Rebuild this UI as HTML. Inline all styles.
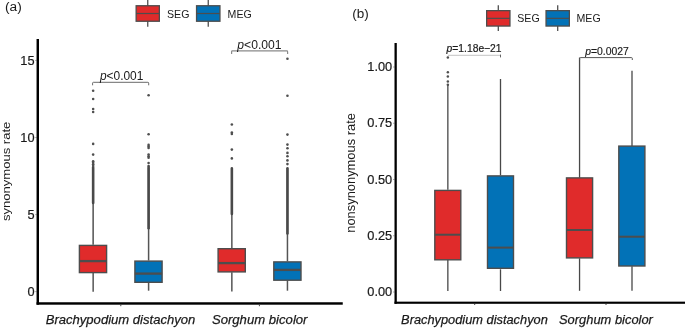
<!DOCTYPE html>
<html><head><meta charset="utf-8"><title>Figure</title>
<style>html,body{margin:0;padding:0;background:#fff;}body{width:685px;height:328px;overflow:hidden;font-family:"Liberation Sans",sans-serif;}svg{display:block;will-change:transform;}text{font-family:"Liberation Sans",sans-serif;fill:#1a1a1a;}</style></head>
<body>
<svg width="685" height="328" viewBox="0 0 685 328">
<rect width="685" height="328" fill="#fff"/>
<text x="5" y="10.5" font-size="13.7" text-anchor="start"  >(a)</text>
<line x1="147.75" x2="147.75" y1="0" y2="26.8" stroke="#505050" stroke-width="1.3"/>
<rect x="136.15" y="5.75" width="23.20" height="15.50" fill="#e02b2b" stroke="#4d4d4d" stroke-width="1.3"/>
<line x1="136.15" x2="159.35" y1="13.50" y2="13.50" stroke="#4d4d4d" stroke-width="1.2"/>
<text x="167" y="17.6" font-size="10.6" text-anchor="start"  >SEG</text>
<line x1="208.25" x2="208.25" y1="0" y2="26.8" stroke="#505050" stroke-width="1.3"/>
<rect x="196.55" y="5.75" width="23.40" height="15.50" fill="#0272b7" stroke="#4d4d4d" stroke-width="1.3"/>
<line x1="196.55" x2="219.95" y1="13.50" y2="13.50" stroke="#4d4d4d" stroke-width="1.2"/>
<text x="227.6" y="17.6" font-size="10.6" text-anchor="start"  >MEG</text>
<rect x="36.55" y="39" width="2.45" height="265.7" fill="#000"/>
<rect x="36.55" y="302.25" width="306.2" height="2.45" fill="#000"/>
<line x1="35.5" x2="36.7" y1="291.60" y2="291.60" stroke="#555" stroke-width="0.8"/>
<text x="34.6" y="296.30" font-size="12.8" text-anchor="end" stroke="#1a1a1a" stroke-width="0.2" >0</text>
<line x1="35.5" x2="36.7" y1="214.55" y2="214.55" stroke="#555" stroke-width="0.8"/>
<text x="34.6" y="219.25" font-size="12.8" text-anchor="end" stroke="#1a1a1a" stroke-width="0.2" >5</text>
<line x1="35.5" x2="36.7" y1="137.50" y2="137.50" stroke="#555" stroke-width="0.8"/>
<text x="34.6" y="142.20" font-size="12.8" text-anchor="end" stroke="#1a1a1a" stroke-width="0.2" >10</text>
<line x1="35.5" x2="36.7" y1="60.45" y2="60.45" stroke="#555" stroke-width="0.8"/>
<text x="34.6" y="65.15" font-size="12.8" text-anchor="end" stroke="#1a1a1a" stroke-width="0.2" >15</text>
<line x1="120.8" x2="120.8" y1="304.8" y2="306.2" stroke="#333" stroke-width="0.9"/>
<line x1="259.4" x2="259.4" y1="304.8" y2="306.2" stroke="#333" stroke-width="0.9"/>
<text transform="translate(10.2,221.0) rotate(-90)" font-size="11.8" text-anchor="start" textLength="99.3" lengthAdjust="spacingAndGlyphs">synonymous rate</text>
<text x="45.7" y="324.2" font-size="13.5" text-anchor="start" font-style="italic" stroke="#1a1a1a" stroke-width="0.25" textLength="149.6" lengthAdjust="spacingAndGlyphs">Brachypodium distachyon</text>
<text x="211.9" y="324.2" font-size="13.5" text-anchor="start" font-style="italic" stroke="#1a1a1a" stroke-width="0.25" textLength="95.6" lengthAdjust="spacingAndGlyphs">Sorghum bicolor</text>
<line x1="93.15" x2="93.15" y1="168" y2="244.7" stroke="#666" stroke-width="1.7"/>
<line x1="93.15" x2="93.15" y1="273" y2="291.7" stroke="#555" stroke-width="1.5"/>
<line x1="93.15" x2="93.15" y1="167.6" y2="202.9" stroke="#494949" stroke-width="2.6" stroke-linecap="round"/>
<circle cx="93.15" cy="90.8" r="1.3" fill="#4f4f4f"/>
<circle cx="93.15" cy="99" r="1.3" fill="#4f4f4f"/>
<circle cx="93.15" cy="109" r="1.3" fill="#4f4f4f"/>
<circle cx="93.15" cy="112" r="1.3" fill="#4f4f4f"/>
<circle cx="93.15" cy="143.9" r="1.3" fill="#4f4f4f"/>
<circle cx="93.15" cy="154.6" r="1.3" fill="#4f4f4f"/>
<circle cx="93.15" cy="161.2" r="1.3" fill="#4f4f4f"/>
<circle cx="93.15" cy="162.8" r="1.3" fill="#4f4f4f"/>
<circle cx="93.15" cy="164.3" r="1.3" fill="#4f4f4f"/>
<circle cx="93.15" cy="165.9" r="1.3" fill="#4f4f4f"/>
<rect x="79.40" y="245.40" width="27.20" height="27.20" fill="#e02b2b" stroke="#4d4d4d" stroke-width="1.4"/>
<line x1="79.40" x2="106.60" y1="261.1" y2="261.1" stroke="#4d4d4d" stroke-width="2.3"/>
<line x1="148.6" x2="148.6" y1="168" y2="260.5" stroke="#555" stroke-width="1.5"/>
<line x1="148.6" x2="148.6" y1="282.6" y2="290.7" stroke="#555" stroke-width="1.5"/>
<line x1="148.6" x2="148.6" y1="166.0" y2="228.2" stroke="#494949" stroke-width="2.6" stroke-linecap="round"/>
<circle cx="148.6" cy="95.3" r="1.3" fill="#4f4f4f"/>
<circle cx="148.6" cy="134.2" r="1.3" fill="#4f4f4f"/>
<circle cx="148.6" cy="144.9" r="1.3" fill="#4f4f4f"/>
<circle cx="148.6" cy="146.5" r="1.3" fill="#4f4f4f"/>
<circle cx="148.6" cy="148.0" r="1.3" fill="#4f4f4f"/>
<circle cx="148.6" cy="154.6" r="1.3" fill="#4f4f4f"/>
<circle cx="148.6" cy="156.2" r="1.3" fill="#4f4f4f"/>
<circle cx="148.6" cy="157.8" r="1.3" fill="#4f4f4f"/>
<circle cx="148.6" cy="163.0" r="1.3" fill="#4f4f4f"/>
<rect x="134.90" y="261.10" width="27.20" height="21.20" fill="#0272b7" stroke="#4d4d4d" stroke-width="1.4"/>
<line x1="134.90" x2="162.10" y1="273.6" y2="273.6" stroke="#4d4d4d" stroke-width="2.3"/>
<line x1="231.85" x2="231.85" y1="168" y2="248.5" stroke="#555" stroke-width="1.5"/>
<line x1="231.85" x2="231.85" y1="272.3" y2="291.5" stroke="#555" stroke-width="1.5"/>
<line x1="231.85" x2="231.85" y1="168.4" y2="213.9" stroke="#494949" stroke-width="2.6" stroke-linecap="round"/>
<circle cx="231.85" cy="124.5" r="1.3" fill="#4f4f4f"/>
<circle cx="231.85" cy="132.5" r="1.3" fill="#4f4f4f"/>
<circle cx="231.85" cy="134" r="1.3" fill="#4f4f4f"/>
<circle cx="231.85" cy="149.6" r="1.3" fill="#4f4f4f"/>
<circle cx="231.85" cy="158.4" r="1.3" fill="#4f4f4f"/>
<rect x="218.10" y="248.70" width="27.20" height="23.20" fill="#e02b2b" stroke="#4d4d4d" stroke-width="1.4"/>
<line x1="218.10" x2="245.30" y1="263.1" y2="263.1" stroke="#4d4d4d" stroke-width="2.3"/>
<line x1="287.45" x2="287.45" y1="168" y2="261.3" stroke="#555" stroke-width="1.5"/>
<line x1="287.45" x2="287.45" y1="280.4" y2="290.7" stroke="#555" stroke-width="1.5"/>
<line x1="287.45" x2="287.45" y1="168.4" y2="233.5" stroke="#494949" stroke-width="2.6" stroke-linecap="round"/>
<circle cx="287.45" cy="58.8" r="1.3" fill="#4f4f4f"/>
<circle cx="287.45" cy="95.8" r="1.3" fill="#4f4f4f"/>
<circle cx="287.45" cy="134.6" r="1.3" fill="#4f4f4f"/>
<circle cx="287.45" cy="144.6" r="1.3" fill="#4f4f4f"/>
<circle cx="287.45" cy="148.2" r="1.3" fill="#4f4f4f"/>
<circle cx="287.45" cy="152.9" r="1.3" fill="#4f4f4f"/>
<circle cx="287.45" cy="156.3" r="1.3" fill="#4f4f4f"/>
<circle cx="287.45" cy="160.4" r="1.3" fill="#4f4f4f"/>
<circle cx="287.45" cy="164.1" r="1.3" fill="#4f4f4f"/>
<rect x="273.80" y="261.90" width="27.20" height="18.30" fill="#0272b7" stroke="#4d4d4d" stroke-width="1.4"/>
<line x1="273.80" x2="301.00" y1="269.9" y2="269.9" stroke="#4d4d4d" stroke-width="2.3"/>
<path d="M92.6 85.3 V83.1 Q92.6 82.3 93.39999999999999 82.3 H147.89999999999998 Q148.7 82.3 148.7 83.1 V85.3" fill="none" stroke="#6a6a6a" stroke-width="1.0"/>
<text x="99.9" y="80.0" font-size="11.95"><tspan font-style="italic">p</tspan>&lt;0.001</text>
<path d="M231.6 53.9 V51.699999999999996 Q231.6 50.9 232.4 50.9 H286.8 Q287.6 50.9 287.6 51.699999999999996 V53.9" fill="none" stroke="#8a8a8a" stroke-width="1.2"/>
<text x="237.3" y="48.5" font-size="12.15"><tspan font-style="italic">p</tspan>&lt;0.001</text>
<text x="352.2" y="17.5" font-size="13.5" text-anchor="start"  >(b)</text>
<line x1="498.30" x2="498.30" y1="5.2" y2="31.1" stroke="#505050" stroke-width="1.3"/>
<rect x="486.65" y="10.65" width="23.30" height="15.40" fill="#e02b2b" stroke="#4d4d4d" stroke-width="1.3"/>
<line x1="486.65" x2="509.95" y1="18.35" y2="18.35" stroke="#4d4d4d" stroke-width="1.2"/>
<text x="517.3" y="22.1" font-size="10.6" text-anchor="start"  >SEG</text>
<line x1="557.70" x2="557.70" y1="5.2" y2="31.1" stroke="#505050" stroke-width="1.3"/>
<rect x="546.05" y="10.65" width="23.30" height="15.40" fill="#0272b7" stroke="#4d4d4d" stroke-width="1.3"/>
<line x1="546.05" x2="569.35" y1="18.35" y2="18.35" stroke="#4d4d4d" stroke-width="1.2"/>
<text x="576.5" y="22.1" font-size="10.6" text-anchor="start"  >MEG</text>
<rect x="394.5" y="43" width="2.3" height="260.8" fill="#000"/>
<rect x="394.5" y="301.65" width="290.5" height="2.15" fill="#000"/>
<line x1="393.4" x2="394.6" y1="292.00" y2="292.00" stroke="#555" stroke-width="0.8"/>
<text x="392.2" y="296.20" font-size="12.8" text-anchor="end" stroke="#1a1a1a" stroke-width="0.2" >0.00</text>
<line x1="393.4" x2="394.6" y1="235.75" y2="235.75" stroke="#555" stroke-width="0.8"/>
<text x="392.2" y="239.95" font-size="12.8" text-anchor="end" stroke="#1a1a1a" stroke-width="0.2" >0.25</text>
<line x1="393.4" x2="394.6" y1="179.50" y2="179.50" stroke="#555" stroke-width="0.8"/>
<text x="392.2" y="183.70" font-size="12.8" text-anchor="end" stroke="#1a1a1a" stroke-width="0.2" >0.50</text>
<line x1="393.4" x2="394.6" y1="123.25" y2="123.25" stroke="#555" stroke-width="0.8"/>
<text x="392.2" y="127.45" font-size="12.8" text-anchor="end" stroke="#1a1a1a" stroke-width="0.2" >0.75</text>
<line x1="393.4" x2="394.6" y1="67.00" y2="67.00" stroke="#555" stroke-width="0.8"/>
<text x="392.2" y="71.20" font-size="12.8" text-anchor="end" stroke="#1a1a1a" stroke-width="0.2" >1.00</text>
<line x1="474.7" x2="474.7" y1="303.6" y2="305" stroke="#333" stroke-width="0.9"/>
<line x1="606" x2="606" y1="303.6" y2="305" stroke="#333" stroke-width="0.9"/>
<text transform="translate(355.4,172.9) rotate(-90)" font-size="12.9" text-anchor="middle">nonsynonymous rate</text>
<text x="401.1" y="324.0" font-size="13.3" text-anchor="start" font-style="italic" stroke="#1a1a1a" stroke-width="0.25" textLength="146.7" lengthAdjust="spacingAndGlyphs">Brachypodium distachyon</text>
<text x="559.0" y="324.0" font-size="13.3" text-anchor="start" font-style="italic" stroke="#1a1a1a" stroke-width="0.25" textLength="93.9" lengthAdjust="spacingAndGlyphs">Sorghum bicolor</text>
<line x1="447.85" x2="447.85" y1="85" y2="189.8" stroke="#484848" stroke-width="1.3"/>
<line x1="447.85" x2="447.85" y1="259.8" y2="291" stroke="#484848" stroke-width="1.3"/>
<circle cx="447.85" cy="57.5" r="1.25" fill="#4f4f4f"/>
<circle cx="447.85" cy="72.3" r="1.25" fill="#4f4f4f"/>
<circle cx="447.85" cy="76.4" r="1.25" fill="#4f4f4f"/>
<circle cx="447.85" cy="81.6" r="1.25" fill="#4f4f4f"/>
<circle cx="447.85" cy="84.7" r="1.25" fill="#4f4f4f"/>
<rect x="434.80" y="190.40" width="26.00" height="69.40" fill="#e02b2b" stroke="#4d4d4d" stroke-width="1.4"/>
<line x1="434.80" x2="460.80" y1="234.7" y2="234.7" stroke="#4d4d4d" stroke-width="2.0"/>
<line x1="500.5" x2="500.5" y1="79" y2="175.3" stroke="#484848" stroke-width="1.3"/>
<line x1="500.5" x2="500.5" y1="269.3" y2="291" stroke="#484848" stroke-width="1.3"/>
<rect x="487.50" y="175.90" width="26.00" height="92.40" fill="#0272b7" stroke="#4d4d4d" stroke-width="1.4"/>
<line x1="487.50" x2="513.50" y1="247.6" y2="247.6" stroke="#4d4d4d" stroke-width="2.0"/>
<line x1="579.55" x2="579.55" y1="57.6" y2="177.8" stroke="#484848" stroke-width="1.3"/>
<line x1="579.55" x2="579.55" y1="258.3" y2="290.8" stroke="#484848" stroke-width="1.3"/>
<rect x="566.50" y="177.90" width="26.10" height="80.00" fill="#e02b2b" stroke="#4d4d4d" stroke-width="1.4"/>
<line x1="566.50" x2="592.60" y1="230.0" y2="230.0" stroke="#4d4d4d" stroke-width="2.0"/>
<line x1="632.0" x2="632.0" y1="70.7" y2="145.9" stroke="#484848" stroke-width="1.3"/>
<line x1="632.0" x2="632.0" y1="266.3" y2="290.8" stroke="#484848" stroke-width="1.3"/>
<rect x="618.80" y="146.10" width="26.10" height="119.90" fill="#0272b7" stroke="#4d4d4d" stroke-width="1.4"/>
<line x1="618.80" x2="644.90" y1="236.7" y2="236.7" stroke="#4d4d4d" stroke-width="2.0"/>
<line x1="448" x2="500.6" y1="55.3" y2="55.3" stroke="#b4b4b4" stroke-width="0.8"/>
<line x1="500.5" x2="500.5" y1="54.6" y2="57.4" stroke="#666" stroke-width="1"/>
<text x="446.6" y="52.3" font-size="10.3" stroke="#1a1a1a" stroke-width="0.2"><tspan font-style="italic">p</tspan>=1.18e−21</text>
<path d="M579.6 60.0 V58.4 Q579.6 57.6 580.4 57.6 H631.5 Q632.3 57.6 632.3 58.4 V60.0" fill="none" stroke="#555" stroke-width="1.0"/>
<text x="585.2" y="54.7" font-size="10.4" stroke="#1a1a1a" stroke-width="0.15"><tspan font-style="italic">p</tspan>=0.0027</text>
</svg>
</body></html>
